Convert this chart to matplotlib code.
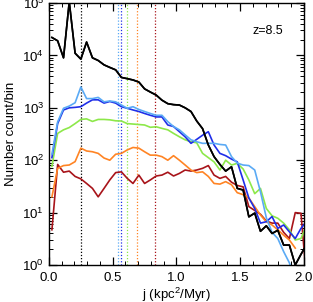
import numpy as np
import matplotlib
matplotlib.use("Agg")
import matplotlib.pyplot as plt
from matplotlib.ticker import FixedLocator, LogLocator, NullFormatter

plt.rcParams['font.family'] = ['Liberation Sans', 'DejaVu Sans']
plt.rcParams['mathtext.fontset'] = 'custom'
plt.rcParams['mathtext.rm'] = 'Liberation Sans'
plt.rcParams['mathtext.it'] = 'Liberation Sans:italic'

# bin centres in j (kpc^2/Myr)
j_bins = [0.023, 0.068, 0.114, 0.159, 0.205, 0.250, 0.295, 0.341, 0.386, 0.432,
          0.477, 0.523, 0.568, 0.614, 0.659, 0.705, 0.750, 0.795, 0.841, 0.886,
          0.932, 0.977, 1.023, 1.068, 1.114, 1.159, 1.205, 1.250, 1.295, 1.341,
          1.386, 1.432, 1.477, 1.523, 1.568, 1.614, 1.659, 1.705, 1.750, 1.795,
          1.841, 1.886, 1.932, 1.977, 2.023]

black = [2.2e4, 1.9e4, 9e3, 1.05e5, 1.1e4, 8.5e3, 1.8e4, 9e3, 8e3, 6.6e3,
         5.9e3, 5.3e3, 3.8e3, 3.6e3, 3.4e3, 3.1e3, 2.3e3, 2.0e3, 1.75e3, 1.4e3,
         1.2e3, 1.15e3, 1.13e3, 1.0e3, 850, 560, 400, 195, 117, 83,
         62, 75, 29, 27, 8.3, 9.8, 4.4, 5.6, 4.0, 4.6,
         2.4, 2.4, 1.0, 1.6, 2.5]

light_blue = [130, 540, 980, 1080, 1250, 2500, 1500, 1500, 1580, 1300,
              1350, 1300, 1130, 980, 1050, 930, 850, 780, 720, 720,
              545, 440, 380, 305, 245, 225, 210, 210, 210, 200,
              195, 117, 88, 81, 79, 65, 25, 8, 4.2, 3.2,
              1.8, 1.1, 0.5, np.nan, np.nan]

blue = [112, 500, 910, 1000, 1020, 1050, 1230, 1420, 1420, 1230,
        1320, 1230, 1050, 980, 910, 850, 780, 720, 670, 670,
        470, 440, 350, 280, 210, 250, 300, 350, 195, 135,
        122, 105, 93, 42, 19, 12, 6.3, 6.7, 8.4, 5.0,
        5.8, 4.3, 3.2, 5.0, 7.0]

green = [76, 325, 380, 420, 500, 600, 615, 550, 600, 600,
         590, 565, 560, 500, 490, 480, 470, 425, 435, 405,
         380, 325, 280, 245, 225, 215, 135, 112, 93, 65,
         100, 81, 87, 68, 42, 23, 29, 12, 8.7, 7.8,
         6.3, 4.7, 3.0, 3.2, 6.0]

orange = [20, 70, 79, 81, 94, 170, 150, 145, 135, 110,
          100, 130, 135, 157, 175, 170, 145, 125, 125, 117,
          100, 122, 100, 81, 65, 58, 60, 49, 36, 35,
          39, 34, 24, 22, 19, 13, 9, 6.7, 5.8, 4.7,
          3.7, 3.0, 2.1, np.nan, np.nan]

dark_red = [4.7, 83, 59, 62, 49, 44, 36, 29, 20, 29,
            42, 58, 60, 45, 36, 52, 36, 42, 50, 52,
            59, 50, 56, 65, 62, 65, 70, 79, 52, 45,
            49, 38, 33, 31, 13, 11, 9.3, 6.9, 6.3, 6.3,
            4.2, 3.2, 10, 9.7, 0.45]

series = [
    (black, 'black', 0.25),
    (light_blue, '#5aaaf5', 0.544),
    (blue, '#1f2ee8', 0.565),
    (green, '#8de84a', 0.614),
    (orange, '#ff8424', 0.693),
    (dark_red, '#a8141a', 0.834),
]

fig = plt.figure(figsize=(3.13, 3.02), dpi=100)
ax = fig.add_axes([0.1565, 0.1225, 0.8145, 0.8675])

for vals, col, vline in series:
    ax.axvline(vline, color=col, linestyle=(0, (1, 1.5)), linewidth=0.9)

for vals, col, vline in series[::-1]:
    ax.plot(j_bins, vals, color=col, linewidth=1.2)
ax.plot(j_bins, black, color='black', linewidth=1.2)

ax.set_yscale('log')
ax.set_xlim(0, 2)
ax.set_ylim(1, 1e5)

ax.xaxis.set_major_locator(FixedLocator([0, 0.5, 1.0, 1.5, 2.0]))
ax.xaxis.set_minor_locator(FixedLocator(np.round(np.arange(0, 2.01, 0.1), 2)))
ax.set_xticklabels(['0.0', '0.5', '1.0', '1.5', '2.0'])
ax.yaxis.set_minor_locator(LogLocator(base=10, subs=np.arange(2, 10), numticks=20))
ax.yaxis.set_minor_formatter(NullFormatter())
ax.set_yticks([1, 10, 100, 1e3, 1e4, 1e5])
ax.set_yticklabels([r'$10^0$', r'$10^1$', r'$10^2$', r'$10^3$', r'$10^4$', r'$10^5$'])

ax.tick_params(which='both', direction='in', top=True, right=True, labelsize=9.5)
ax.tick_params(which='major', length=6, width=0.9)
ax.tick_params(which='minor', length=3, width=0.7)
ax.tick_params(axis='x', pad=5)

ax.set_xlabel(r'j (kpc$^2$/Myr)', fontsize=9.5, labelpad=1)
ax.set_ylabel('Number count/bin', fontsize=9.5)
ax.text(0.86, 0.895, 'z=8.5', transform=ax.transAxes, fontsize=9, ha='center', va='center')

for sp in ax.spines.values():
    sp.set_linewidth(1.0)

fig.savefig('out.png', dpi=100)
